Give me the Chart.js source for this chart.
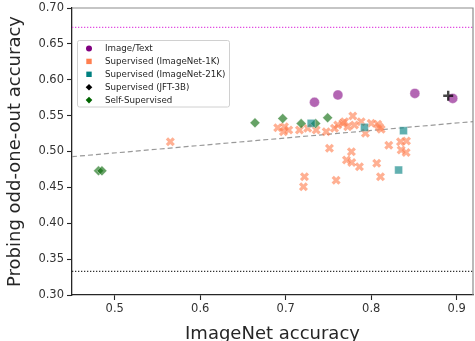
<!DOCTYPE html>
<html><head><meta charset="utf-8">
<script src="https://cdn.jsdelivr.net/npm/chart.js@4.4.1/dist/chart.umd.min.js"></script>
<style>html,body{margin:0;padding:0;background:#fff;}canvas{display:block;}</style>
</head><body>
<canvas id="c" width="475" height="341"></canvas>
<script>
// ---- data ----
const imageTextX = [0.7336, 0.761, 0.851, 0.8953];
const imageTextY = [0.5686, 0.5788, 0.581, 0.574];
const in21kX = [0.7297, 0.792, 0.8377, 0.832];
const in21kY = [0.5393, 0.5337, 0.529, 0.4742];
const jftX = [0.890];
const jftY = [0.5778];
const sslX = [0.481, 0.485, 0.664, 0.6965, 0.718, 0.735, 0.749];
const sslY = [0.473, 0.473, 0.540, 0.546, 0.539, 0.539, 0.547];
const in1kX = [0.565, 0.6906, 0.6985, 0.6973, 0.716, 0.7257, 0.7356, 0.7473, 0.757, 0.7608,
  0.7667, 0.7687, 0.7725, 0.7784, 0.7804, 0.7882, 0.7932, 0.7999, 0.8076, 0.8096,
  0.8116, 0.7511, 0.7768, 0.771, 0.7772, 0.7862, 0.8064, 0.8205, 0.8342, 0.8412,
  0.835, 0.8408, 0.8108, 0.7589, 0.7219, 0.7207, 0.7035];
const in1kY = [0.5137, 0.5332, 0.5346, 0.5276, 0.530, 0.5323, 0.530, 0.5276, 0.5323, 0.5369,
  0.5393, 0.5415, 0.5346, 0.5495, 0.5369, 0.5415, 0.5254, 0.5393, 0.5379, 0.5341,
  0.5309, 0.5045, 0.4997, 0.4882, 0.4847, 0.4788, 0.4836, 0.5086, 0.5137, 0.5146,
  0.5021, 0.4986, 0.4649, 0.4599, 0.4649, 0.4509, 0.5300];
const trendX = [0.45, 0.92];
const trendY = [0.4928, 0.5418];
const refX = [0.45, 0.92];
const upperRef = 0.673;
const chanceRef = 0.333;
const xTicks = [0.5, 0.6, 0.7, 0.8, 0.9];
const yTicks = [0.30, 0.35, 0.40, 0.45, 0.50, 0.55, 0.60, 0.65, 0.70];
const legendLabels = ['Image/Text', 'Supervised (ImageNet-1K)', 'Supervised (ImageNet-21K)', 'Supervised (JFT-3B)', 'Self-Supervised'];
const legendColors = ['#800080', '#ff7f50', '#008080', '#000000', '#006400'];
const legendShapes = ['circle', 'square', 'square', 'diamond', 'diamond'];

const pts = (xs, ys) => xs.map((x, i) => ({x, y: ys[i]}));
const FONT = "'DejaVu Sans', sans-serif";
Chart.defaults.font.family = FONT;
Chart.defaults.color = '#262626';

const framePlugin = {
  id: 'frame',
  afterDraw(chart) {
    const {ctx, chartArea: a} = chart;
    ctx.save();
    ctx.strokeStyle = '#8c8c8c';
    ctx.lineWidth = 1.2;
    ctx.beginPath();
    ctx.moveTo(a.left, a.top); ctx.lineTo(a.right, a.top); ctx.lineTo(a.right, a.bottom);
    ctx.stroke();
    // legend
    const bx = 77.5, by = 40.5, bw = 152, bh = 66.5;
    ctx.fillStyle = 'rgba(255,255,255,0.85)';
    ctx.strokeStyle = '#d0d0d0';
    ctx.lineWidth = 1;
    ctx.beginPath();
    if (ctx.roundRect) ctx.roundRect(bx, by, bw, bh, 2); else ctx.rect(bx, by, bw, bh);
    ctx.fill(); ctx.stroke();
    ctx.font = '8.7px ' + FONT;
    ctx.textBaseline = 'middle';
    ctx.textAlign = 'left';
    legendLabels.forEach((lab, i) => {
      const y = 48.5 + i * 12.9, mx = 89;
      ctx.fillStyle = legendColors[i];
      ctx.beginPath();
      if (legendShapes[i] === 'circle') ctx.arc(mx, y, 3, 0, Math.PI * 2);
      else if (legendShapes[i] === 'square') ctx.rect(mx - 2.7, y - 2.7, 5.4, 5.4);
      else { ctx.moveTo(mx - 3.3, y); ctx.lineTo(mx, y - 3.3); ctx.lineTo(mx + 3.3, y); ctx.lineTo(mx, y + 3.3); ctx.closePath(); }
      ctx.fill();
      ctx.fillStyle = '#262626';
      ctx.fillText(lab, 105, y + 0.5);
    });
    ctx.restore();
  }
};

new Chart(document.getElementById('c'), {
  type: 'scatter',
  data: {
    datasets: [
      {label: legendLabels[3], data: pts(jftX, jftY), pointStyle: 'cross', pointRadius: 5,
        pointBorderWidth: 2.4, pointBorderColor: 'rgba(0,0,0,0.72)', pointBackgroundColor: 'rgba(0,0,0,0.72)'},
      {label: legendLabels[0], data: pts(imageTextX, imageTextY), pointStyle: 'circle', pointRadius: 5,
        pointBorderWidth: 0.6, pointBorderColor: 'rgba(255,255,255,0.6)', pointBackgroundColor: 'rgba(128,0,128,0.6)'},
      {label: legendLabels[2], data: pts(in21kX, in21kY), pointStyle: 'rect', pointRadius: 5.6,
        pointBorderWidth: 0.6, pointBorderColor: 'rgba(255,255,255,0.6)', pointBackgroundColor: 'rgba(0,128,128,0.62)'},
      {label: legendLabels[4], data: pts(sslX, sslY), pointStyle: 'rectRot', pointRadius: 5,
        pointBorderWidth: 0.6, pointBorderColor: 'rgba(255,255,255,0.6)', pointBackgroundColor: 'rgba(0,100,0,0.6)'},
      {label: legendLabels[1], data: pts(in1kX, in1kY), pointStyle: 'crossRot', pointRadius: 4.8,
        pointBorderWidth: 3.2, pointBorderColor: 'rgba(255,127,80,0.62)', pointBackgroundColor: 'rgba(255,127,80,0.62)'},
      {label: 'trend', data: pts(trendX, trendY), showLine: true, pointRadius: 0, borderColor: '#999999',
        borderWidth: 1.2, borderDash: [5, 3]},
      {label: 'upper', data: pts(refX, [upperRef, upperRef]), showLine: true, pointRadius: 0,
        borderColor: '#e24ee2', borderWidth: 1.2, borderDash: [1.3, 1.7]},
      {label: 'chance', data: pts(refX, [chanceRef, chanceRef]), showLine: true, pointRadius: 0,
        borderColor: '#333333', borderWidth: 1.2, borderDash: [1.3, 1.7]}
    ]
  },
  options: {
    responsive: false, animation: false, devicePixelRatio: 1,
    layout: {autoPadding: false, padding: {top: 8, right: 2, left: 0, bottom: 0}},
    plugins: {legend: {display: false}, tooltip: {enabled: false}},
    scales: {
      x: {
        type: 'linear', min: 0.45, max: 0.919,
        afterFit: s => { s.height = 46; s.paddingRight = 0; s.paddingLeft = 0; },
        afterBuildTicks: s => { s.ticks = xTicks.map(v => ({value: v})); },
        ticks: {font: {size: 11.5}, color: '#333', padding: 2, callback: v => v.toFixed(1), includeBounds: false},
        grid: {display: true, drawOnChartArea: false, drawTicks: true, tickLength: 5, color: '#262626', tickWidth: 1.1},
        border: {display: true, color: '#262626', width: 1.3},
        title: {display: true, text: 'ImageNet accuracy', font: {size: 18, lineHeight: 1}, color: '#262626', padding: {top: 0, bottom: -2}}
      },
      y: {
        type: 'linear', min: 0.30, max: 0.70,
        afterFit: s => { s.width = 72; s.paddingTop = 0; s.paddingBottom = 0; },
        afterBuildTicks: s => { s.ticks = yTicks.map(v => ({value: v})); },
        ticks: {font: {size: 11.5}, color: '#333', padding: 3, callback: v => v.toFixed(2)},
        grid: {display: true, drawOnChartArea: false, drawTicks: true, tickLength: 5, color: '#262626', tickWidth: 1.1},
        border: {display: true, color: '#262626', width: 1.3},
        title: {display: true, text: 'Probing odd-one-out accuracy', font: {size: 18, lineHeight: 1}, color: '#262626', padding: {top: 6, bottom: 0}}
      }
    }
  },
  plugins: [framePlugin]
});
</script>
</body></html>
